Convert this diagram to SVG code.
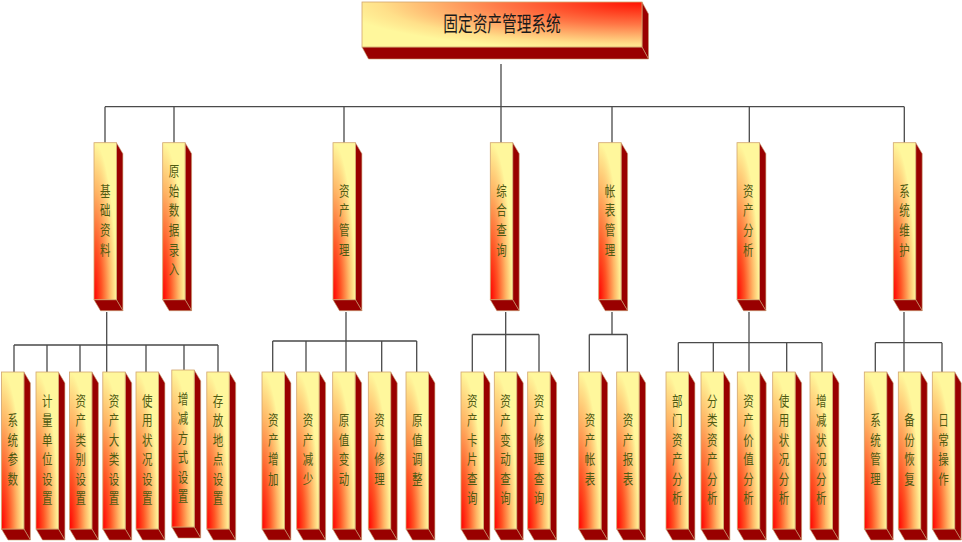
<svg xmlns="http://www.w3.org/2000/svg" width="962" height="542" viewBox="0 0 962 542">
<defs>
<radialGradient id="gV" cx="0" cy="1" r="1" fx="0" fy="1">
<stop offset="0" stop-color="#FF0000"/>
<stop offset="0.35" stop-color="#FF5525"/>
<stop offset="0.7" stop-color="#FFB565"/>
<stop offset="1" stop-color="#FFF79C"/>
</radialGradient>
<radialGradient id="gT" cx="1" cy="0" r="1.1" fx="1" fy="0">
<stop offset="0" stop-color="#FF1000"/>
<stop offset="0.45" stop-color="#FF7545"/>
<stop offset="0.85" stop-color="#FFE08A"/>
<stop offset="1" stop-color="#FFF79C"/>
</radialGradient>
</defs>
<style>
.f{fill:url(#gV);stroke:#D2A56E;stroke-width:0.8}
.ft{fill:url(#gT);stroke:#D2A56E;stroke-width:0.8}
.s{fill:#990000;stroke:#C9A070;stroke-width:0.6}
.t{font-family:"Noto Sans CJK SC","Noto Sans",sans-serif;font-size:14px;fill:#4E5A12;text-anchor:middle}
.tt{font-family:"Noto Sans CJK SC","Noto Sans",sans-serif;font-size:21px;fill:#1A1A1A;text-anchor:middle}
.c{fill:none;stroke:#4A4A4A;stroke-width:1.3}
</style>
<rect width="962" height="542" fill="#FFFFFF"/>

<g id="connectors">
<path class="c" d="M501 64V106.7M105 106.7H904.3M105 106.7V142.7M174 106.7V142.7M344 106.7V142.7M501 106.7V142.7M612 106.7V142.7M749.3 106.7V142.7M904.3 106.7V142.7"/>
<path class="c" d="M106.7 312V345M14 345H218M14 345V372M47 345V372M80 345V372M106.7 345V372M146 345V372M184 345V370M218 345V372"/>
<path class="c" d="M346 312V341M272.7 341H416.7M272.7 341V372M306 341V372M346 341V372M381.7 341V372M416.7 341V372"/>
<path class="c" d="M505.7 312V334.5M472.3 334.5H539M472.3 334.5V372M505.7 334.5V372M539 334.5V372"/>
<path class="c" d="M612 312V334.5M589.3 334.5H627.3M589.3 334.5V372M627.3 334.5V372"/>
<path class="c" d="M749 312V342.7M678.3 342.7H822M678.3 342.7V372M713.3 342.7V372M749 342.7V372M786.7 342.7V372M822 342.7V372"/>
<path class="c" d="M904 312V342.7M875.3 342.7H942M875.3 342.7V372M904 342.7V372M942 342.7V372"/>
</g>

<g id="n-root">
<polygon class="s" points="642,2 648.5,14 648.5,59 642,47"/>
<polygon class="s" points="362,47 642,47 648.5,59 368.5,59"/>
<rect class="ft" x="362" y="2" width="280" height="45"/>
<text class="tt" transform="translate(502,31) scale(0.7 1)">固定资产管理系统</text>
</g>

<!-- second row -->
<g id="n-jczl">
<polygon class="s" points="116.4,142.7 122.9,153.7 122.9,310.7 116.4,299.7"/>
<polygon class="s" points="94,299.7 116.4,299.7 122.9,310.7 100.5,310.7"/>
<rect class="f" x="94" y="142.7" width="22.4" height="157"/>
<text class="t" transform="translate(105.2,195.9) scale(0.75 1)"><tspan x="0" y="0">基</tspan><tspan x="0" y="19.6">础</tspan><tspan x="0" y="39.2">资</tspan><tspan x="0" y="58.8">料</tspan></text>
</g>
<g id="n-ysjl">
<polygon class="s" points="185.1,142.7 191.6,153.7 191.6,310.7 185.1,299.7"/>
<polygon class="s" points="162.7,299.7 185.1,299.7 191.6,310.7 169.2,310.7"/>
<rect class="f" x="162.7" y="142.7" width="22.4" height="157"/>
<text class="t" transform="translate(173.9,176.3) scale(0.75 1)"><tspan x="0" y="0">原</tspan><tspan x="0" y="19.6">始</tspan><tspan x="0" y="39.2">数</tspan><tspan x="0" y="58.8">据</tspan><tspan x="0" y="78.4">录</tspan><tspan x="0" y="98">入</tspan></text>
</g>
<g id="n-zcgl">
<polygon class="s" points="355.4,142.7 361.9,153.7 361.9,310.7 355.4,299.7"/>
<polygon class="s" points="333,299.7 355.4,299.7 361.9,310.7 339.5,310.7"/>
<rect class="f" x="333" y="142.7" width="22.4" height="157"/>
<text class="t" transform="translate(344.2,195.9) scale(0.75 1)"><tspan x="0" y="0">资</tspan><tspan x="0" y="19.6">产</tspan><tspan x="0" y="39.2">管</tspan><tspan x="0" y="58.8">理</tspan></text>
</g>
<g id="n-zhcx">
<polygon class="s" points="512.7,142.7 519.2,153.7 519.2,310.7 512.7,299.7"/>
<polygon class="s" points="490.3,299.7 512.7,299.7 519.2,310.7 496.8,310.7"/>
<rect class="f" x="490.3" y="142.7" width="22.4" height="157"/>
<text class="t" transform="translate(501.5,195.9) scale(0.75 1)"><tspan x="0" y="0">综</tspan><tspan x="0" y="19.6">合</tspan><tspan x="0" y="39.2">查</tspan><tspan x="0" y="58.8">询</tspan></text>
</g>
<g id="n-zbgl">
<polygon class="s" points="621.1,142.7 627.6,153.7 627.6,310.7 621.1,299.7"/>
<polygon class="s" points="598.7,299.7 621.1,299.7 627.6,310.7 605.2,310.7"/>
<rect class="f" x="598.7" y="142.7" width="22.4" height="157"/>
<text class="t" transform="translate(609.9,195.9) scale(0.75 1)"><tspan x="0" y="0">帐</tspan><tspan x="0" y="19.6">表</tspan><tspan x="0" y="39.2">管</tspan><tspan x="0" y="58.8">理</tspan></text>
</g>
<g id="n-zcfx">
<polygon class="s" points="759.4,142.7 765.9,153.7 765.9,310.7 759.4,299.7"/>
<polygon class="s" points="737,299.7 759.4,299.7 765.9,310.7 743.5,310.7"/>
<rect class="f" x="737" y="142.7" width="22.4" height="157"/>
<text class="t" transform="translate(748.2,195.9) scale(0.75 1)"><tspan x="0" y="0">资</tspan><tspan x="0" y="19.6">产</tspan><tspan x="0" y="39.2">分</tspan><tspan x="0" y="58.8">析</tspan></text>
</g>
<g id="n-xtwh">
<polygon class="s" points="915.7,142.7 922.2,153.7 922.2,310.7 915.7,299.7"/>
<polygon class="s" points="893.3,299.7 915.7,299.7 922.2,310.7 899.8,310.7"/>
<rect class="f" x="893.3" y="142.7" width="22.4" height="157"/>
<text class="t" transform="translate(904.5,195.9) scale(0.75 1)"><tspan x="0" y="0">系</tspan><tspan x="0" y="19.6">统</tspan><tspan x="0" y="39.2">维</tspan><tspan x="0" y="58.8">护</tspan></text>
</g>

<!-- bottom row group 1 -->
<g id="n-xtcs">
<polygon class="s" points="23.9,372 30.4,383 30.4,540 23.9,529"/>
<polygon class="s" points="1.5,529 23.9,529 30.4,540 8,540"/>
<rect class="f" x="1.5" y="372" width="22.4" height="157"/>
<text class="t" transform="translate(12.7,425.1) scale(0.75 1)"><tspan x="0" y="0">系</tspan><tspan x="0" y="19.6">统</tspan><tspan x="0" y="39.2">参</tspan><tspan x="0" y="58.8">数</tspan></text>
</g>
<g id="n-jldw">
<polygon class="s" points="58.4,372 64.9,383 64.9,540 58.4,529"/>
<polygon class="s" points="36,529 58.4,529 64.9,540 42.5,540"/>
<rect class="f" x="36" y="372" width="22.4" height="157"/>
<text class="t" transform="translate(47.2,405.5) scale(0.75 1)"><tspan x="0" y="0">计</tspan><tspan x="0" y="19.6">量</tspan><tspan x="0" y="39.2">单</tspan><tspan x="0" y="58.8">位</tspan><tspan x="0" y="78.4">设</tspan><tspan x="0" y="98">置</tspan></text>
</g>
<g id="n-zclb">
<polygon class="s" points="91.9,372 98.4,383 98.4,540 91.9,529"/>
<polygon class="s" points="69.5,529 91.9,529 98.4,540 76,540"/>
<rect class="f" x="69.5" y="372" width="22.4" height="157"/>
<text class="t" transform="translate(80.7,405.5) scale(0.75 1)"><tspan x="0" y="0">资</tspan><tspan x="0" y="19.6">产</tspan><tspan x="0" y="39.2">类</tspan><tspan x="0" y="58.8">别</tspan><tspan x="0" y="78.4">设</tspan><tspan x="0" y="98">置</tspan></text>
</g>
<g id="n-zcdl">
<polygon class="s" points="125.2,372 131.7,383 131.7,540 125.2,529"/>
<polygon class="s" points="102.8,529 125.2,529 131.7,540 109.3,540"/>
<rect class="f" x="102.8" y="372" width="22.4" height="157"/>
<text class="t" transform="translate(114,405.5) scale(0.75 1)"><tspan x="0" y="0">资</tspan><tspan x="0" y="19.6">产</tspan><tspan x="0" y="39.2">大</tspan><tspan x="0" y="58.8">类</tspan><tspan x="0" y="78.4">设</tspan><tspan x="0" y="98">置</tspan></text>
</g>
<g id="n-syzk">
<polygon class="s" points="158.4,372 164.9,383 164.9,540 158.4,529"/>
<polygon class="s" points="136,529 158.4,529 164.9,540 142.5,540"/>
<rect class="f" x="136" y="372" width="22.4" height="157"/>
<text class="t" transform="translate(147.2,405.5) scale(0.75 1)"><tspan x="0" y="0">使</tspan><tspan x="0" y="19.6">用</tspan><tspan x="0" y="39.2">状</tspan><tspan x="0" y="58.8">况</tspan><tspan x="0" y="78.4">设</tspan><tspan x="0" y="98">置</tspan></text>
</g>
<g id="n-zjfs">
<polygon class="s" points="194.2,370 200.7,381 200.7,538 194.2,527"/>
<polygon class="s" points="171.8,527 194.2,527 200.7,538 178.3,538"/>
<rect class="f" x="171.8" y="370" width="22.4" height="157"/>
<text class="t" transform="translate(183,403.5) scale(0.75 1)"><tspan x="0" y="0">增</tspan><tspan x="0" y="19.6">减</tspan><tspan x="0" y="39.2">方</tspan><tspan x="0" y="58.8">式</tspan><tspan x="0" y="78.4">设</tspan><tspan x="0" y="98">置</tspan></text>
</g>
<g id="n-cfdd">
<polygon class="s" points="229.2,372 235.7,383 235.7,540 229.2,529"/>
<polygon class="s" points="206.8,529 229.2,529 235.7,540 213.3,540"/>
<rect class="f" x="206.8" y="372" width="22.4" height="157"/>
<text class="t" transform="translate(218,405.5) scale(0.75 1)"><tspan x="0" y="0">存</tspan><tspan x="0" y="19.6">放</tspan><tspan x="0" y="39.2">地</tspan><tspan x="0" y="58.8">点</tspan><tspan x="0" y="78.4">设</tspan><tspan x="0" y="98">置</tspan></text>
</g>

<!-- group 2 -->
<g id="n-zczj">
<polygon class="s" points="284.4,372 290.9,383 290.9,540 284.4,529"/>
<polygon class="s" points="262,529 284.4,529 290.9,540 268.5,540"/>
<rect class="f" x="262" y="372" width="22.4" height="157"/>
<text class="t" transform="translate(273.2,425.1) scale(0.75 1)"><tspan x="0" y="0">资</tspan><tspan x="0" y="19.6">产</tspan><tspan x="0" y="39.2">增</tspan><tspan x="0" y="58.8">加</tspan></text>
</g>
<g id="n-zcjs">
<polygon class="s" points="319.1,372 325.6,383 325.6,540 319.1,529"/>
<polygon class="s" points="296.7,529 319.1,529 325.6,540 303.2,540"/>
<rect class="f" x="296.7" y="372" width="22.4" height="157"/>
<text class="t" transform="translate(307.9,425.1) scale(0.75 1)"><tspan x="0" y="0">资</tspan><tspan x="0" y="19.6">产</tspan><tspan x="0" y="39.2">减</tspan><tspan x="0" y="58.8">少</tspan></text>
</g>
<g id="n-yzbd">
<polygon class="s" points="355.1,372 361.6,383 361.6,540 355.1,529"/>
<polygon class="s" points="332.7,529 355.1,529 361.6,540 339.2,540"/>
<rect class="f" x="332.7" y="372" width="22.4" height="157"/>
<text class="t" transform="translate(343.9,425.1) scale(0.75 1)"><tspan x="0" y="0">原</tspan><tspan x="0" y="19.6">值</tspan><tspan x="0" y="39.2">变</tspan><tspan x="0" y="58.8">动</tspan></text>
</g>
<g id="n-zcxl">
<polygon class="s" points="390.7,372 397.2,383 397.2,540 390.7,529"/>
<polygon class="s" points="368.3,529 390.7,529 397.2,540 374.8,540"/>
<rect class="f" x="368.3" y="372" width="22.4" height="157"/>
<text class="t" transform="translate(379.5,425.1) scale(0.75 1)"><tspan x="0" y="0">资</tspan><tspan x="0" y="19.6">产</tspan><tspan x="0" y="39.2">修</tspan><tspan x="0" y="58.8">理</tspan></text>
</g>
<g id="n-yztz">
<polygon class="s" points="428.4,372 434.9,383 434.9,540 428.4,529"/>
<polygon class="s" points="406,529 428.4,529 434.9,540 412.5,540"/>
<rect class="f" x="406" y="372" width="22.4" height="157"/>
<text class="t" transform="translate(417.2,425.1) scale(0.75 1)"><tspan x="0" y="0">原</tspan><tspan x="0" y="19.6">值</tspan><tspan x="0" y="39.2">调</tspan><tspan x="0" y="58.8">整</tspan></text>
</g>

<!-- group 3 -->
<g id="n-kpcx">
<polygon class="s" points="483.4,372 489.9,383 489.9,540 483.4,529"/>
<polygon class="s" points="461,529 483.4,529 489.9,540 467.5,540"/>
<rect class="f" x="461" y="372" width="22.4" height="157"/>
<text class="t" transform="translate(472.2,405.5) scale(0.75 1)"><tspan x="0" y="0">资</tspan><tspan x="0" y="19.6">产</tspan><tspan x="0" y="39.2">卡</tspan><tspan x="0" y="58.8">片</tspan><tspan x="0" y="78.4">查</tspan><tspan x="0" y="98">询</tspan></text>
</g>
<g id="n-bdcx">
<polygon class="s" points="516.7,372 523.2,383 523.2,540 516.7,529"/>
<polygon class="s" points="494.3,529 516.7,529 523.2,540 500.8,540"/>
<rect class="f" x="494.3" y="372" width="22.4" height="157"/>
<text class="t" transform="translate(505.5,405.5) scale(0.75 1)"><tspan x="0" y="0">资</tspan><tspan x="0" y="19.6">产</tspan><tspan x="0" y="39.2">变</tspan><tspan x="0" y="58.8">动</tspan><tspan x="0" y="78.4">查</tspan><tspan x="0" y="98">询</tspan></text>
</g>
<g id="n-xlcx">
<polygon class="s" points="550.1,372 556.6,383 556.6,540 550.1,529"/>
<polygon class="s" points="527.7,529 550.1,529 556.6,540 534.2,540"/>
<rect class="f" x="527.7" y="372" width="22.4" height="157"/>
<text class="t" transform="translate(538.9,405.5) scale(0.75 1)"><tspan x="0" y="0">资</tspan><tspan x="0" y="19.6">产</tspan><tspan x="0" y="39.2">修</tspan><tspan x="0" y="58.8">理</tspan><tspan x="0" y="78.4">查</tspan><tspan x="0" y="98">询</tspan></text>
</g>

<!-- group 4 -->
<g id="n-zczb">
<polygon class="s" points="601.1,372 607.6,383 607.6,540 601.1,529"/>
<polygon class="s" points="578.7,529 601.1,529 607.6,540 585.2,540"/>
<rect class="f" x="578.7" y="372" width="22.4" height="157"/>
<text class="t" transform="translate(589.9,425.1) scale(0.75 1)"><tspan x="0" y="0">资</tspan><tspan x="0" y="19.6">产</tspan><tspan x="0" y="39.2">帐</tspan><tspan x="0" y="58.8">表</tspan></text>
</g>
<g id="n-zcbb">
<polygon class="s" points="639.1,372 645.6,383 645.6,540 639.1,529"/>
<polygon class="s" points="616.7,529 639.1,529 645.6,540 623.2,540"/>
<rect class="f" x="616.7" y="372" width="22.4" height="157"/>
<text class="t" transform="translate(627.9,425.1) scale(0.75 1)"><tspan x="0" y="0">资</tspan><tspan x="0" y="19.6">产</tspan><tspan x="0" y="39.2">报</tspan><tspan x="0" y="58.8">表</tspan></text>
</g>

<!-- group 5 -->
<g id="n-bmfx">
<polygon class="s" points="688.4,372 694.9,383 694.9,540 688.4,529"/>
<polygon class="s" points="666,529 688.4,529 694.9,540 672.5,540"/>
<rect class="f" x="666" y="372" width="22.4" height="157"/>
<text class="t" transform="translate(677.2,405.5) scale(0.75 1)"><tspan x="0" y="0">部</tspan><tspan x="0" y="19.6">门</tspan><tspan x="0" y="39.2">资</tspan><tspan x="0" y="58.8">产</tspan><tspan x="0" y="78.4">分</tspan><tspan x="0" y="98">析</tspan></text>
</g>
<g id="n-flfx">
<polygon class="s" points="723.4,372 729.9,383 729.9,540 723.4,529"/>
<polygon class="s" points="701,529 723.4,529 729.9,540 707.5,540"/>
<rect class="f" x="701" y="372" width="22.4" height="157"/>
<text class="t" transform="translate(712.2,405.5) scale(0.75 1)"><tspan x="0" y="0">分</tspan><tspan x="0" y="19.6">类</tspan><tspan x="0" y="39.2">资</tspan><tspan x="0" y="58.8">产</tspan><tspan x="0" y="78.4">分</tspan><tspan x="0" y="98">析</tspan></text>
</g>
<g id="n-jzfx">
<polygon class="s" points="759.7,372 766.2,383 766.2,540 759.7,529"/>
<polygon class="s" points="737.3,529 759.7,529 766.2,540 743.8,540"/>
<rect class="f" x="737.3" y="372" width="22.4" height="157"/>
<text class="t" transform="translate(748.5,405.5) scale(0.75 1)"><tspan x="0" y="0">资</tspan><tspan x="0" y="19.6">产</tspan><tspan x="0" y="39.2">价</tspan><tspan x="0" y="58.8">值</tspan><tspan x="0" y="78.4">分</tspan><tspan x="0" y="98">析</tspan></text>
</g>
<g id="n-syfx">
<polygon class="s" points="795.1,372 801.6,383 801.6,540 795.1,529"/>
<polygon class="s" points="772.7,529 795.1,529 801.6,540 779.2,540"/>
<rect class="f" x="772.7" y="372" width="22.4" height="157"/>
<text class="t" transform="translate(783.9,405.5) scale(0.75 1)"><tspan x="0" y="0">使</tspan><tspan x="0" y="19.6">用</tspan><tspan x="0" y="39.2">状</tspan><tspan x="0" y="58.8">况</tspan><tspan x="0" y="78.4">分</tspan><tspan x="0" y="98">析</tspan></text>
</g>
<g id="n-zjfx">
<polygon class="s" points="832.4,372 838.9,383 838.9,540 832.4,529"/>
<polygon class="s" points="810,529 832.4,529 838.9,540 816.5,540"/>
<rect class="f" x="810" y="372" width="22.4" height="157"/>
<text class="t" transform="translate(821.2,405.5) scale(0.75 1)"><tspan x="0" y="0">增</tspan><tspan x="0" y="19.6">减</tspan><tspan x="0" y="39.2">状</tspan><tspan x="0" y="58.8">况</tspan><tspan x="0" y="78.4">分</tspan><tspan x="0" y="98">析</tspan></text>
</g>

<!-- group 6 -->
<g id="n-xtgl">
<polygon class="s" points="886.7,372 893.2,383 893.2,540 886.7,529"/>
<polygon class="s" points="864.3,529 886.7,529 893.2,540 870.8,540"/>
<rect class="f" x="864.3" y="372" width="22.4" height="157"/>
<text class="t" transform="translate(875.5,425.1) scale(0.75 1)"><tspan x="0" y="0">系</tspan><tspan x="0" y="19.6">统</tspan><tspan x="0" y="39.2">管</tspan><tspan x="0" y="58.8">理</tspan></text>
</g>
<g id="n-bfhf">
<polygon class="s" points="920.7,372 927.2,383 927.2,540 920.7,529"/>
<polygon class="s" points="898.3,529 920.7,529 927.2,540 904.8,540"/>
<rect class="f" x="898.3" y="372" width="22.4" height="157"/>
<text class="t" transform="translate(909.5,425.1) scale(0.75 1)"><tspan x="0" y="0">备</tspan><tspan x="0" y="19.6">份</tspan><tspan x="0" y="39.2">恢</tspan><tspan x="0" y="58.8">复</tspan></text>
</g>
<g id="n-rccz">
<polygon class="s" points="954.7,372 961.2,383 961.2,540 954.7,529"/>
<polygon class="s" points="932.3,529 954.7,529 961.2,540 938.8,540"/>
<rect class="f" x="932.3" y="372" width="22.4" height="157"/>
<text class="t" transform="translate(943.5,425.1) scale(0.75 1)"><tspan x="0" y="0">日</tspan><tspan x="0" y="19.6">常</tspan><tspan x="0" y="39.2">操</tspan><tspan x="0" y="58.8">作</tspan></text>
</g>
</svg>
